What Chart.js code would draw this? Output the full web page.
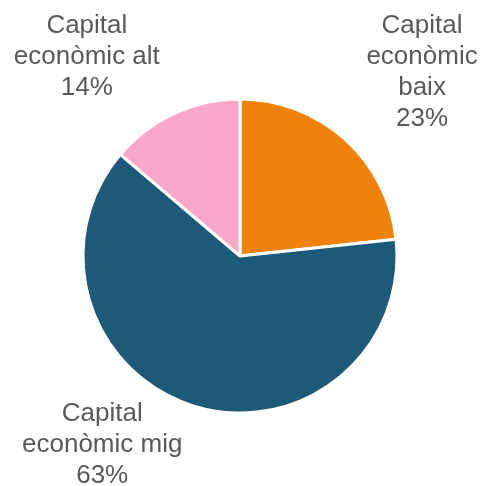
<!DOCTYPE html>
<html>
<head>
<meta charset="utf-8">
<script src="https://cdn.jsdelivr.net/npm/chart.js@4"></script>
<style>
  html, body { margin: 0; padding: 0; background: #fff; }
  #wrap { width: 482px; height: 486px; }
</style>
</head>
<body>
<div id="wrap"><canvas id="myChart" width="482" height="486"></canvas></div>
<script>
// categories, as they wrap in the picture
var categories = [
    ['Capital', 'econòmic', 'baix'],
    ['Capital', 'econòmic mig'],
    ['Capital', 'econòmic alt']
];
var values = [23.3, 62.9, 13.8];
var colors = ['#F0820C', '#1D5A7A', '#F9A8C9'];

// nudges for the outside labels (px, relative to the slice direction)
var labelNudge = [[37, -22], [-74, -19], [-62, -2]];

var outsideLabels = {
    id: 'outsideLabels',
    afterDraw: function(chart) {
        var ctx = chart.ctx;
        var meta = chart.getDatasetMeta(0);
        var total = values.reduce(function(a, b) { return a + b; }, 0);
        ctx.save();
        ctx.font = '26px "Liberation Sans", Arial, sans-serif';
        ctx.fillStyle = '#595959';
        ctx.textAlign = 'center';
        ctx.textBaseline = 'middle';
        meta.data.forEach(function(arc, i) {
            var p = arc.getProps(['x', 'y', 'startAngle', 'endAngle', 'outerRadius'], true);
            var mid = (p.startAngle + p.endAngle) / 2;
            var d = p.outerRadius + 60;
            var cx = p.x + Math.cos(mid) * d + labelNudge[i][0];
            var cy = p.y + Math.sin(mid) * d + labelNudge[i][1];
            var lines = categories[i].concat([Math.round(values[i] / total * 100) + '%']);
            var lh = 31;
            var y0 = cy - (lines.length - 1) * lh / 2;
            lines.forEach(function(t, k) {
                ctx.fillText(t, cx, y0 + k * lh);
            });
        });
        ctx.restore();
    }
};

var ctx = document.getElementById('myChart').getContext('2d');
var chart = new Chart(ctx, {
    type: 'pie',
    data: {
        labels: categories,
        datasets: [{
            data: values,
            backgroundColor: colors,
            borderColor: '#ffffff',
            borderWidth: 3
        }]
    },
    options: {
        responsive: false,
        animation: false,
        radius: 157,
        layout: { padding: { left: 80, right: 82, top: 96, bottom: 70 } },
        plugins: {
            legend: { display: false },
            tooltip: { enabled: false }
        }
    },
    plugins: [outsideLabels]
});
</script>
</body>
</html>
